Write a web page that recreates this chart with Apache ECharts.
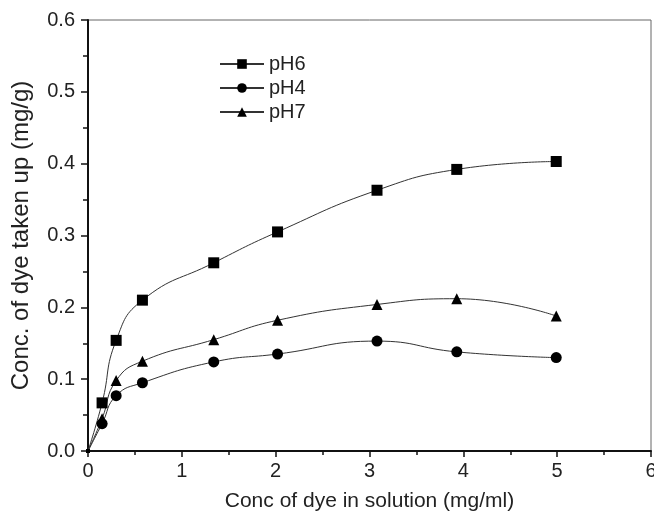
<!DOCTYPE html>
<html>
<head>
<meta charset="utf-8">
<script src="https://cdn.jsdelivr.net/npm/echarts@6/dist/echarts.min.js"></script>
<style>
  html, body { margin: 0; padding: 0; background: #fff; }
  #chart { width: 654px; height: 513px; }
</style>
</head>
<body>
<div id="chart"></div>
<script>
// dye concentration in solution (mg/ml)
const concX = [0, 0.15, 0.30, 0.58, 1.34, 2.02, 3.08, 3.93, 4.99];

// dye taken up (mg/g)
const pH6 = [0, 0.067, 0.154, 0.210, 0.262, 0.305, 0.363, 0.392, 0.403];
const pH4 = [0, 0.038, 0.077, 0.095, 0.124, 0.135, 0.153, 0.138, 0.130];
const pH7 = [0, 0.045, 0.098, 0.125, 0.155, 0.182, 0.204, 0.212, 0.188];

const xTicks = [0, 1, 2, 3, 4, 5, 6];
const yTicks = [0.0, 0.1, 0.2, 0.3, 0.4, 0.5, 0.6];

const FONT = '"Liberation Sans", Arial, sans-serif';
const INK = '#222';

const chart = echarts.init(document.getElementById('chart'), null, { renderer: 'canvas' });

function pairs(ys) {
  return concX.map((x, i) => [x, ys[i]]);
}

function makeSeries(name, ys, symbol) {
  return {
    name: name,
    type: 'line',
    data: pairs(ys),
    smooth: 0.5,
    symbol: symbol,
    symbolSize: (v) => (v[0] === 0 ? 4 : 11),
    showAllSymbol: true,
    clip: false,
    lineStyle: { color: '#333', width: 1 },
    itemStyle: { color: '#000', borderWidth: 0 },
    emphasis: { disabled: true }
  };
}

chart.setOption({
  backgroundColor: '#fff',
  animation: false,
  grid: {
    left: 88, right: 3, top: 20, bottom: 62,
    outerBoundsMode: 'none',
    containLabel: false,
    show: true, borderColor: '#666', borderWidth: 1
  },
  legend: {
    orient: 'vertical',
    left: 214, top: 49,
    itemWidth: 44, itemHeight: 12, itemGap: 4,
    data: ['pH6', 'pH4', 'pH7'],
    textStyle: { fontFamily: FONT, fontSize: 20, color: INK, padding: [0, 0, 0, 0] }
  },
  xAxis: {
    type: 'value',
    min: xTicks[0], max: xTicks[xTicks.length - 1], interval: 1,
    name: 'Conc of dye in solution (mg/ml)',
    nameLocation: 'middle', nameGap: 40,
    nameTextStyle: { fontFamily: FONT, fontSize: 21, color: INK },
    axisLine: { onZero: false, lineStyle: { color: '#111', width: 2 } },
    axisTick: { inside: false, length: 6, lineStyle: { color: '#111', width: 1.5 } },
    minorTick: { show: true, splitNumber: 2, length: 4, lineStyle: { color: '#111', width: 1.5 } },
    axisLabel: { fontFamily: FONT, fontSize: 20, color: INK, margin: 10 },
    splitLine: { show: false }
  },
  yAxis: {
    type: 'value',
    min: yTicks[0], max: yTicks[yTicks.length - 1], interval: 0.1,
    name: 'Conc. of dye taken up (mg/g)',
    nameLocation: 'middle', nameGap: 55,
    nameTextStyle: { fontFamily: FONT, fontSize: 24, color: INK },
    axisLine: { show: true, onZero: false, lineStyle: { color: '#111', width: 2 } },
    axisTick: { show: true, inside: false, length: 7, lineStyle: { color: '#111', width: 1.5 } },
    minorTick: { show: true, splitNumber: 2, length: 5, lineStyle: { color: '#111', width: 1.5 } },
    axisLabel: {
      fontFamily: FONT, fontSize: 20, color: INK, margin: 13,
      formatter: (v) => v.toFixed(1)
    },
    splitLine: { show: false }
  },
  series: [
    makeSeries('pH6', pH6, 'rect'),
    makeSeries('pH4', pH4, 'circle'),
    makeSeries('pH7', pH7, 'triangle')
  ]
});
</script>
</body>
</html>
